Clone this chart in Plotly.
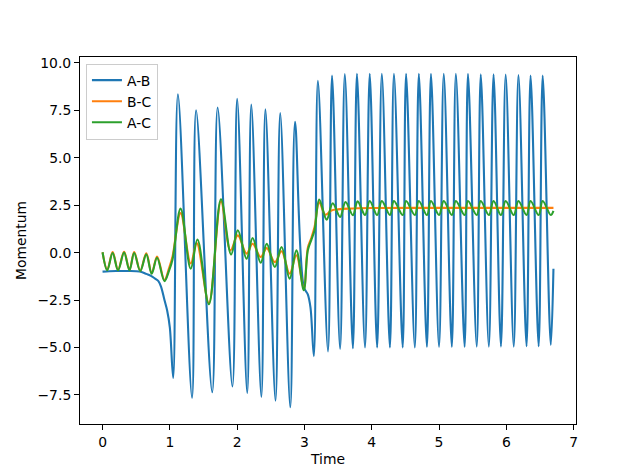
import plotly.graph_objects as go

# A-B momentum (time, value)
ab_time = [0.00, 0.10, 0.20, 0.30, 0.40, 0.50, 0.58, 0.65, 0.72, 0.78, 0.83, 0.87, 0.92, 0.96, 1.00,
           1.05, 1.12, 1.33, 1.39, 1.63, 1.71, 1.93, 2.00, 2.15, 2.21, 2.36, 2.42, 2.57, 2.64, 2.79, 2.86,
           2.99, 3.05, 3.09, 3.14, 3.20, 3.35, 3.41, 3.53, 3.60, 3.72, 3.78, 3.90, 3.97, 4.08, 4.15,
           4.27, 4.33, 4.46, 4.51, 4.64, 4.70, 4.82, 4.88, 5.00, 5.07, 5.19, 5.25, 5.38, 5.43, 5.56,
           5.62, 5.74, 5.81, 5.92, 5.99, 6.11, 6.18, 6.30, 6.36, 6.48, 6.54, 6.66, 6.70]
ab_value = [-1.00, -0.98, -0.97, -0.97, -0.97, -0.98, -1.02, -1.12, -1.22, -1.37, -1.50, -1.80, -2.50, -3.05, -3.95,
            -6.60, 8.35, -7.65, 7.50, -7.35, 7.65, -7.05, 8.10, -7.40, 7.80, -7.60, 7.55, -7.80, 7.35, -8.15, 6.90,
            -1.80, -2.20, -2.90, -5.45, 9.05, -5.20, 9.33, -5.07, 9.41, -5.04, 9.43, -5.00, 9.43, -5.00, 9.43,
            -5.00, 9.43, -5.00, 9.43, -5.00, 9.43, -4.97, 9.42, -4.97, 9.42, -4.97, 9.42, -4.97, 9.42, -4.95,
            9.40, -4.95, 9.40, -4.95, 9.38, -4.95, 9.36, -4.93, 9.33, -4.93, 9.33, -4.86, -0.85]

# B-C momentum
bc_time = [0.00, 0.07, 0.15, 0.23, 0.32, 0.40, 0.47, 0.56, 0.65, 0.73, 0.81, 0.92, 0.99, 1.04,
           1.16, 1.31, 1.40, 1.58, 1.76, 1.90, 2.01, 2.14, 2.23, 2.35, 2.44, 2.56, 2.66, 2.78, 2.88,
           2.99, 3.05, 3.10, 3.15, 3.22, 3.31, 3.40, 3.50, 3.65, 4.00, 5.00, 6.00, 6.70]
bc_value = [0.02, -0.90, 0.03, -0.90, 0.05, -0.90, 0.03, -0.95, -0.03, -1.08, -0.20, -1.45, -0.80, -0.20,
            2.08, -0.57, 0.50, -2.65, 2.70, 0.12, 0.91, -0.05, 0.47, -0.23, 0.24, -0.50, 0.07, -1.11, -0.14,
            -1.93, 0.25, 0.75, 1.35, 2.65, 2.00, 2.22, 2.28, 2.32, 2.35, 2.36, 2.36, 2.36]

# A-C momentum
ac_time = [0.00, 0.07, 0.15, 0.23, 0.32, 0.40, 0.47, 0.56, 0.65, 0.73, 0.81, 0.92, 0.99, 1.04,
           1.16, 1.31, 1.41, 1.58, 1.76, 1.91, 2.01, 2.14, 2.23, 2.35, 2.44, 2.56, 2.66, 2.78, 2.88,
           2.99, 3.05, 3.10, 3.15, 3.22, 3.33, 3.42, 3.53, 3.61, 3.72, 3.79, 3.90, 3.97, 4.08, 4.15,
           4.27, 4.33, 4.46, 4.51, 4.64, 4.70, 4.82, 4.88, 5.00, 5.07, 5.19, 5.25, 5.38, 5.43, 5.56,
           5.62, 5.74, 5.81, 5.92, 5.99, 6.11, 6.18, 6.30, 6.36, 6.48, 6.54, 6.66, 6.70]
ac_value = [0.02, -0.93, -0.02, -0.93, 0.00, -0.93, -0.02, -0.97, -0.09, -1.11, -0.27, -1.50, -0.93, -0.36,
            2.32, -0.85, 0.69, -2.72, 2.81, -0.10, 1.18, -0.32, 0.77, -0.53, 0.47, -0.76, 0.30, -1.37, 0.12,
            -1.98, 0.12, 0.65, 1.18, 2.80, 1.74, 2.60, 1.88, 2.67, 1.97, 2.70, 1.98, 2.72, 1.98, 2.72,
            1.98, 2.72, 1.98, 2.72, 1.98, 2.72, 1.98, 2.72, 1.98, 2.72, 1.98, 2.72, 1.98, 2.72, 1.98,
            2.72, 1.98, 2.72, 1.98, 2.72, 1.98, 2.72, 1.98, 2.72, 1.98, 2.72, 1.98, 2.20]

series = [("A-B", ab_time, ab_value, "#1f77b4"),
          ("B-C", bc_time, bc_value, "#ff7f0e"),
          ("A-C", ac_time, ac_value, "#2ca02c")]

fig = go.Figure()
for name, t, v, color in series:
    fig.add_trace(go.Scatter(x=t, y=v, mode="lines", name=name,
                             line=dict(color=color, width=2.1, shape="spline", smoothing=1)))

# matplotlib-like 5% margins
all_t = ab_time + bc_time + ac_time
all_v = ab_value + bc_value + ac_value
tspan = max(all_t) - min(all_t)
vspan = max(all_v) - min(all_v)
xr = [min(all_t) - 0.05 * tspan, max(all_t) + 0.05 * tspan]
yr = [min(all_v) - 0.05 * vspan, max(all_v) + 0.05 * vspan]

axis_style = dict(showgrid=False, zeroline=False, showline=True, linecolor="black", linewidth=1,
                  mirror=True, ticks="outside", ticklen=5, tickwidth=1, tickcolor="black",
                  tickfont=dict(size=13.9, color="black"))

fig.update_xaxes(range=xr, tickvals=[0, 1, 2, 3, 4, 5, 6, 7],
                 title=dict(text="Time", font=dict(size=13.9, color="black"), standoff=5), **axis_style)
fig.update_yaxes(range=yr, tickvals=[-7.5, -5, -2.5, 0, 2.5, 5, 7.5, 10], tickformat=".1f",
                 title=dict(text="Momentum", font=dict(size=13.9, color="black"), standoff=7), **axis_style)

fig.update_layout(
    width=640, height=476,
    margin=dict(l=80, r=64, t=57, b=52),
    paper_bgcolor="white", plot_bgcolor="white",
    font=dict(family="DejaVu Sans", size=13.9, color="black"),
    legend=dict(x=0.012, y=0.982, xanchor="left", yanchor="top",
                bgcolor="rgba(255,255,255,0.8)", bordercolor="#cccccc", borderwidth=1,
                font=dict(size=13.9)),
)

# drop the browser's default body margin so the figure sits at the page corner
fig.write_html("out.html", config={"displayModeBar": False},
               post_script="document.body.style.margin = '0';")
